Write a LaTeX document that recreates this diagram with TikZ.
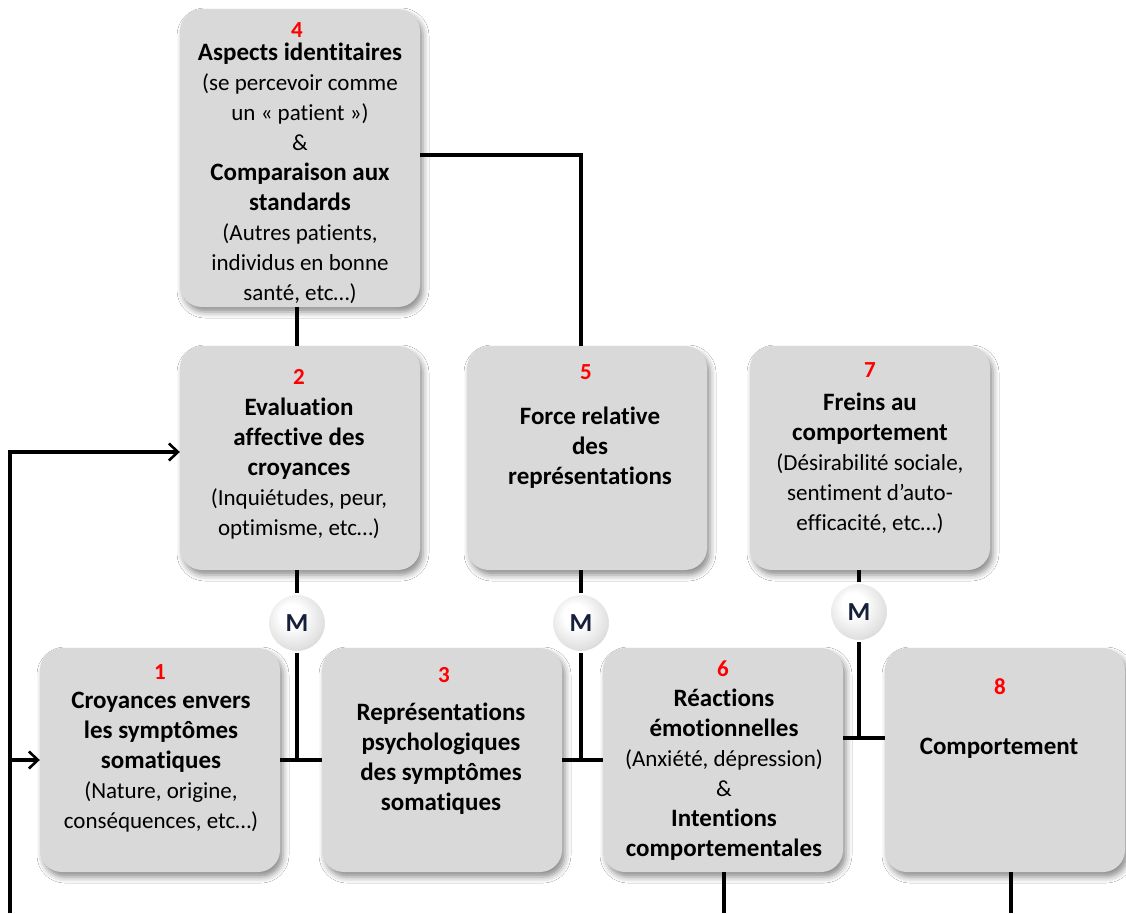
\documentclass[tikz,border=0pt]{standalone}
\usepackage{fontspec}
\setmainfont{Carlito}[Ligatures={NoCommon}]
\usetikzlibrary{arrows.meta,shadows.blur,calc}

\definecolor{boxgray}{HTML}{D9D9D9}
\definecolor{mink}{HTML}{16203A}

% glossy grey ball used for the moderator markers
\pgfdeclareradialshading{mballshade}{\pgfpoint{-6bp}{8bp}}{%
  color(0bp)=(white); color(10bp)=(white); color(26bp)=(black!12);
  color(40bp)=(black!32); color(50bp)=(black!52)}

\newcommand{\rg}[1]{{\fontsize{23}{30}\selectfont #1}}

\begin{document}
\begin{tikzpicture}[x=1pt,y=-1pt,
  box/.style={rectangle, rounded corners=22pt, fill=boxgray,
    minimum width=240pt, minimum height=224pt, inner sep=0pt,
    blur shadow={shadow xshift=3pt, shadow yshift=-5pt,
      shadow blur radius=6pt, shadow opacity=45}},
  num/.style={text=red, font=\fontsize{23}{28}\selectfont\bfseries, inner sep=0pt},
  txt/.style={align=center, font=\fontsize{25}{30}\selectfont\bfseries, inner sep=0pt},
  mball/.style={circle, minimum size=58pt, inner sep=0pt, shading=mballshade,
    draw=white, line width=2pt, text=mink,
    font=\fontsize{26}{26}\selectfont\bfseries},
  link/.style={line width=3.2pt, black},
  arr/.style={link, -{Straight Barb[length=9pt,width=17pt,line width=2.6pt]}}]

\useasboundingbox[fill=white] (0,0) rectangle (1126,913);

% boxes
\node[box, minimum height=298pt] (b4) at (300,158) {};
\node[box] (b2) at (300,458) {};
\node[box] (b5) at (587,458) {};
\node[box] (b7) at (870,458) {};
\node[box] (b1) at (160,760) {};
\node[box] (b3) at (442,760) {};
\node[box] (b6) at (723,760) {};
\node[box] (b8) at (1005,760) {};

% numbers
\node[num] (n4) at (297,30) {4};
\node[num] (n2) at (299,377) {2};
\node[num] (n5) at (586,372) {5};
\node[num] (n7) at (870,370) {7};
\node[num] (n1) at (160,672) {1};
\node[num] (n3) at (444,675) {3};
\node[num] (n6) at (723,669) {6};
\node[num] (n8) at (1000,687) {8};

% texts
\node[txt] (t4) at (300,173) {Aspects identitaires\\
  \rg{\mdseries (se percevoir comme}\\
  \rg{\mdseries un « patient »)}\\
  \rg{\mdseries \&}\\
  Comparaison aux\\ standards\\
  \rg{\mdseries (Autres patients,}\\
  \rg{\mdseries individus en bonne}\\
  \rg{\mdseries santé, etc…)}};
\node[txt] (t2) at (299,469) {Evaluation\\ affective des\\ croyances\\
  \rg{\mdseries (Inquiétudes, peur,}\\
  \rg{\mdseries optimisme, etc…)}};
\node[txt] (t5) at (590,448) {Force relative\\ des\\ représentations};
\node[txt] (t7) at (870,463) {Freins au\\ comportement\\
  \rg{\mdseries (Désirabilité sociale,}\\
  \rg{\mdseries sentiment d’auto-}\\
  \rg{\mdseries efficacité, etc…)}};
\node[txt] (t1) at (161,762) {Croyances envers\\ les symptômes\\ somatiques\\
  \rg{\mdseries (Nature, origine,}\\
  \rg{\mdseries conséquences, etc…)}};
\node[txt] (t3) at (441,759) {Représentations\\ psychologiques\\ des symptômes\\ somatiques};
\node[txt] (t6) at (724,775) {Réactions\\ émotionnelles\\
  \rg{\mdseries (Anxiété, dépression)}\\
  \rg{\mdseries \&}\\
  Intentions\\ comportementales};
\node[txt] (t8) at (999,748) {Comportement};

% moderators
\node[mball] (m1) at (297,623) {M};
\node[mball] (m2) at (581,623) {M};
\node[mball] (m3) at (859,612) {M};

% junction points and loose ends
\coordinate (j6) at ($(b6.east)+(0,-22)$);
\coordinate (j8) at (b8.west |- j6);
\coordinate (e6) at (724,913);
\coordinate (e8) at (1011,913);
\coordinate (fb) at (10,913);

% connectors
\draw[link] (b4.south -| m1) -- (b2.north -| m1);
\draw[link] ($(b4.east)+(0,-3)$) -| (b5.north -| m2);
\draw[link] (b2.south -| m1) -- (m1);
\draw[link] (m1) -- (m1 |- b1.east);
\draw[link] (b1.east) -- (b3.west);
\draw[link] (b5.south -| m2) -- (m2);
\draw[link] (m2) -- (m2 |- b3.east);
\draw[link] (b3.east) -- (b6.west);
\draw[link] (b7.south -| m3) -- (m3);
\draw[link] (m3) -- (m3 |- j6);
\draw[link] (j6) -- (j8);
\draw[link] (b6.south -| e6) -- (e6);
\draw[link] (b8.south -| e8) -- (e8);
\draw[arr] (fb) |- ($(b2.west)+(0,-6)$);
\draw[arr] (fb |- b1.west) -- (b1.west);
\end{tikzpicture}
\end{document}
